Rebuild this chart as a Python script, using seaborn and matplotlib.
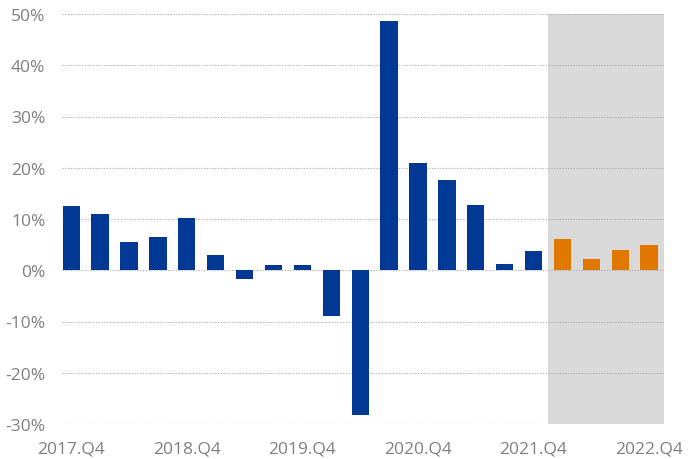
import matplotlib
matplotlib.use("Agg")
import matplotlib.pyplot as plt
import matplotlib.transforms as mtransforms
import seaborn as sns
import pandas as pd

# Quarterly growth, 2017.Q4 - 2022.Q4 (last four are forecasts)
quarters = ["2017.Q4", "2018.Q1", "2018.Q2", "2018.Q3", "2018.Q4",
            "2019.Q1", "2019.Q2", "2019.Q3", "2019.Q4",
            "2020.Q1", "2020.Q2", "2020.Q3", "2020.Q4",
            "2021.Q1", "2021.Q2", "2021.Q3", "2021.Q4",
            "2022.Q1", "2022.Q2", "2022.Q3", "2022.Q4"]
growth = [12.5, 11.0, 5.5, 6.5, 10.2, 3.0, -1.8, 1.0, 1.0, -9.0, -28.3,
          48.7, 21.0, 17.7, 12.8, 1.2, 3.8, 6.1, 2.2, 4.0, 5.0]
kind = ["actual"] * 17 + ["forecast"] * 4
tick_labels = ["2017.Q4", "2018.Q4", "2019.Q4", "2020.Q4", "2021.Q4", "2022.Q4"]

df = pd.DataFrame({"quarter": quarters, "growth": growth, "kind": kind})

sns.set_style("white")
plt.rcParams["font.family"] = ["Open Sans", "DejaVu Sans"]

fig = plt.figure(figsize=(6.93, 4.6), dpi=100)
ax = fig.add_axes([62 / 693, 35 / 460, 603 / 693, 410 / 460])

# forecast shading
ax.axvspan(16.5, 20.5, color="#d9d9d9", zorder=0, lw=0)

sns.barplot(data=df, x="quarter", y="growth", hue="kind", dodge=False,
            palette={"actual": "#003893", "forecast": "#e07800"},
            saturation=1, width=0.6, linewidth=0, legend=False, ax=ax, zorder=3)

ax.set_xlim(-0.32, 20.55)
ax.set_ylim(-30, 50)
ax.set_yticks(range(-30, 51, 10))
ax.set_yticklabels([f"{v}%" for v in range(-30, 51, 10)])
ax.yaxis.grid(True, linestyle=(0, (1, 1.5)), color="#a6a6a6", lw=0.8, zorder=1)
ax.set_axisbelow(True)

ax.set_xticks([quarters.index(t) for t in tick_labels])
ax.set_xticklabels(tick_labels)
shift = mtransforms.ScaledTranslation(6 / 100, 0, fig.dpi_scale_trans)
for lab in ax.get_xticklabels():
    lab.set_transform(lab.get_transform() + shift)

ax.tick_params(axis="both", length=0, labelsize=12.5, colors="#7f7f7f")
ax.tick_params(axis="y", pad=12)
ax.tick_params(axis="x", pad=12)
ax.set_xlabel("")
ax.set_ylabel("")
for s in ax.spines.values():
    s.set_visible(False)

fig.savefig("out.png", dpi=100)
